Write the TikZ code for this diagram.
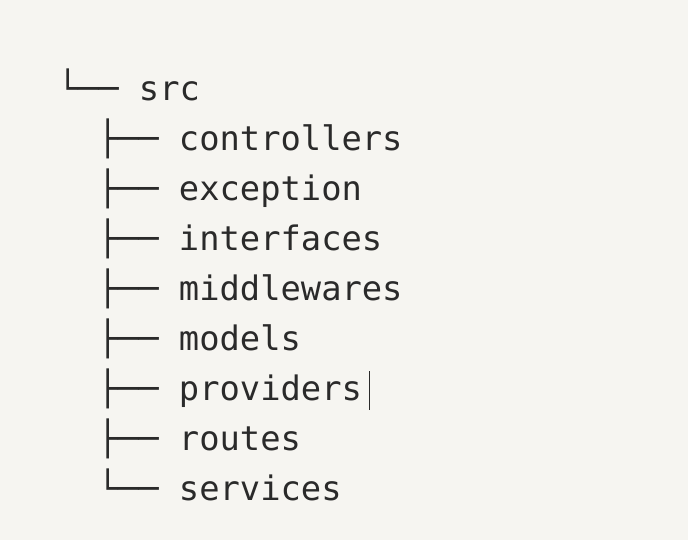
\documentclass[tikz,border=0pt]{standalone}
\usepackage{fontspec}
\setmonofont{DejaVu Sans Mono}
\definecolor{paper}{HTML}{F6F5F1}
\definecolor{ink}{HTML}{2A2A2A}

\begin{document}
\begin{tikzpicture}[x=0.01cm,y=-0.01cm,
    every node/.style={anchor=base west,inner sep=0pt,text=ink,
      font=\ttfamily\fontsize{9.6}{11}\selectfont}]
    \fill[paper] (0,0) rectangle (688,540);
    \useasboundingbox (0,0) rectangle (688,540);

    \node (src) at (57,101) {└── src};
    \node (controllers) at (97,151) {├── controllers};
    \node (exception) at (97,201) {├── exception};
    \node (interfaces) at (97,251) {├── interfaces};
    \node (middlewares) at (97,301) {├── middlewares};
    \node (models) at (97,351) {├── models};
    \node (providers) at (97,401) {├── providers};
    \node (routes) at (97,451) {├── routes};
    \node (services) at (97,501) {└── services};

    \coordinate (cursor) at ([xshift=2pt]providers.base east);
    \draw[ink,line width=0.4pt] ([yshift=-2.5pt]cursor) -- ([yshift=8.5pt]cursor);
  \end{tikzpicture}
\end{document}
